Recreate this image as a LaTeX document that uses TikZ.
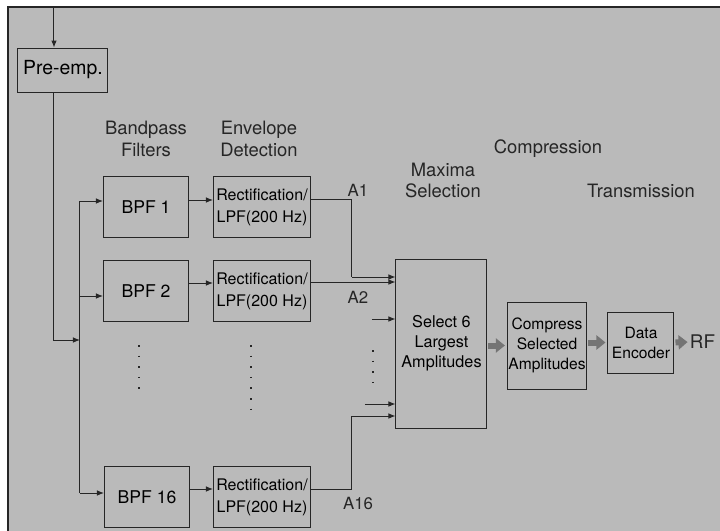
\documentclass[tikz,border=0pt]{standalone}
\usepackage{fontspec}
\setmainfont{TeX Gyre Heros}
\usetikzlibrary{arrows.meta,calc}
\definecolor{screen}{HTML}{BABABA}
\definecolor{ink}{HTML}{262626}
\definecolor{fatgray}{HTML}{747474}
\tikzset{
  block/.style={draw=ink,line width=0.5pt,inner sep=0.5pt,align=center},
  heading/.style={align=center,inner sep=0pt,text=ink,
                  font=\fontsize{9.2}{10.8}\selectfont},
  tag/.style={inner sep=0pt,text=ink,font=\fontsize{8.4}{10}\selectfont},
  wire/.style={line width=0.5pt,draw=ink},
  sig/.style={-{Latex[length=3.5pt,width=2.8pt]},line width=0.5pt,draw=ink},
  fat/.style={-{Triangle[length=4.5pt,width=7pt]},line width=3pt,
              draw=fatgray,shorten <=0.5pt,shorten >=1pt},
  vdots/.style={line width=0.8pt,draw=ink,dash pattern=on 0.8pt off 4.5pt}
}

\begin{document}
\begin{tikzpicture}[x=0.5pt,y=-0.5pt]
    \path[use as bounding box] (0,0) rectangle (720,531);
    \fill[screen] (8,7) rectangle (720,531);
    \draw[line width=0.8pt,ink] (8,531) -- (8,7) -- (720,7);

    \node[block,minimum width=45pt,minimum height=22pt,
          font=\fontsize{9.7}{11}\selectfont] (pre) at (63,70) {Pre-emp.};
    \coordinate (in) at (54,7);
    \draw[sig] (in) -- (in |- pre.north);

    % headings
    \node[heading] (hbpf) at (146,139) {Bandpass\\Filters};
    \node[heading] (henv) at (259,139) {Envelope\\Detection};
    \node[heading] (hmax) at (443,180.5) {Maxima\\Selection};
    \node[heading] (hcomp) at (548,149) {Compression};
    \node[heading] (htx) at (641,191) {Transmission};

    % filter bank
    \node[block,minimum width=42.5pt,minimum height=30.5pt,
          font=\fontsize{8.8}{10}\selectfont] (bpf1) at (146,207) {BPF 1};
    \node[block,minimum width=42.5pt,minimum height=30.5pt,
          font=\fontsize{8.8}{10}\selectfont] (bpf2) at (146,291) {BPF 2};
    \node[block,minimum width=42.5pt,minimum height=30.5pt,
          font=\fontsize{8.8}{10}\selectfont] (bpf16) at (147,497) {BPF 16};
    \node[block,minimum width=48.5pt,minimum height=30.5pt,
          font=\fontsize{8}{11}\selectfont] (rec1) at (262,207)
      {Rectification/\\LPF(200 Hz)};
    \node[block,minimum width=48.5pt,minimum height=30.5pt,
          font=\fontsize{8}{11}\selectfont] (rec2) at (262,291)
      {Rectification/\\LPF(200 Hz)};
    \node[block,minimum width=48.5pt,minimum height=30.5pt,
          font=\fontsize{8}{11}\selectfont] (rec16) at (262,497)
      {Rectification/\\LPF(200 Hz)};

    \coordinate (tap) at (54,340);
    \coordinate (bus) at (80,340);
    \coordinate (b1) at (80,201);
    \coordinate (b2) at (80,296);
    \coordinate (b16) at (80,493);
    \draw[sig] (in |- pre.south) -- (tap) -- (bus);
    \draw[wire] (b1) -- (b16);
    \draw[sig] (b1) -- (b1 -| bpf1.west);
    \draw[sig] (b2) -- (b2 -| bpf2.west);
    \draw[sig] (b16) -- (b16 -| bpf16.west);
    \draw[sig] ([yshift=3.5pt]bpf1.east) -- ([yshift=3.5pt]rec1.west);
    \draw[sig] ([yshift=4pt]bpf2.east) -- ([yshift=4pt]rec2.west);
    \draw[sig] ([yshift=4pt]bpf16.east) -- ([yshift=4pt]rec16.west);

    \draw[vdots] (139,345) -- (139,395);
    \draw[vdots] (251,345) -- (251,410);
    \draw[vdots] (373,350) -- (373,385);

    % maxima selection and output chain
    \node[block,minimum width=45.5pt,minimum height=84.5pt,
          font=\fontsize{8.1}{10}\selectfont] (sel) at (441.5,343.5)
      {Select 6\\Largest\\Amplitudes};
    \node[block,minimum width=39pt,minimum height=43.5pt,
          font=\fontsize{7.8}{10}\selectfont] (comp) at (547,345.5)
      {Compress\\Selected\\Amplitudes};
    \node[block,minimum width=33pt,minimum height=30.5pt,
          font=\fontsize{7.8}{10}\selectfont] (enc) at (641,342.5)
      {Data\\Encoder};
    \node[inner sep=0pt,text=ink,font=\fontsize{9.4}{11}\selectfont]
      (rf) at (702.5,342) {RF};

    \coordinate (a1) at ([yshift=4pt]rec1.east);
    \coordinate (a2) at ([yshift=4.5pt]rec2.east);
    \coordinate (a16) at ([yshift=4pt]rec16.east);
    \coordinate (j1) at (352,199);
    \coordinate (k1) at (352,277);
    \coordinate (j16) at (352,489);
    \coordinate (k16) at (352,416);
    \coordinate (s3) at (372,319);
    \coordinate (s15) at (365,404);
    \draw[wire] (a1) -- (j1) -- (k1);
    \draw[sig] (k1) -- (k1 -| sel.west);
    \draw[sig] (a2) -- (a2 -| sel.west);
    \draw[sig] (s3) -- (s3 -| sel.west);
    \draw[sig] (s15) -- (s15 -| sel.west);
    \draw[wire] (a16) -- (j16) -- (k16);
    \draw[sig] (k16) -- (k16 -| sel.west);

    \node[tag] (la1) at (358,190) {A1};
    \node[tag] (la2) at (358,297) {A2};
    \node[tag] (la16) at (358,503) {A16};

    \draw[fat] (sel.east |- comp.west) -- (comp.west);
    \draw[fat] (comp.east |- enc.west) -- (enc.west);
    \draw[fat] (enc.east) -- (rf.west);
  \end{tikzpicture}
\end{document}
